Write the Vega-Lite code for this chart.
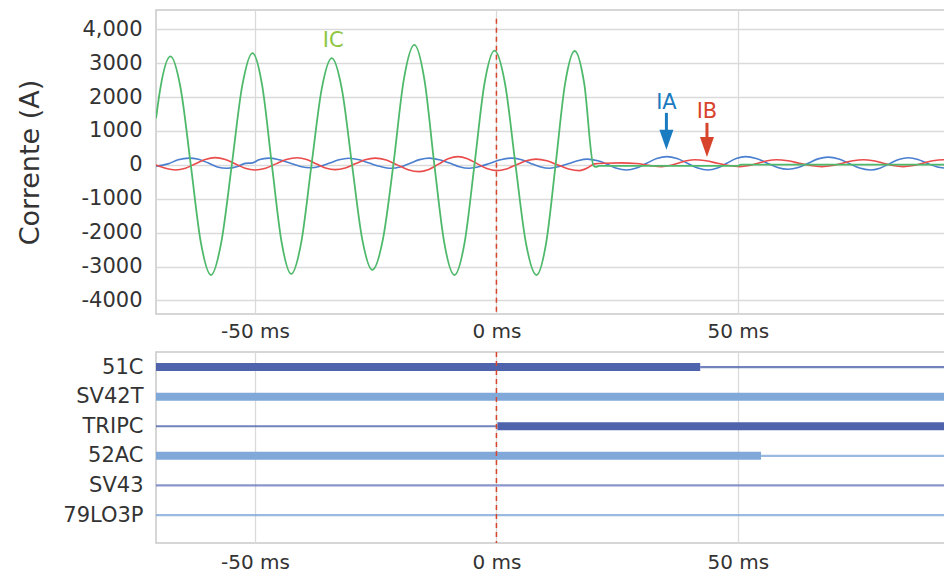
{
"$schema": "https://vega.github.io/schema/vega-lite/v6.json",
"padding": {"left": 16, "top": 9, "right": 0, "bottom": 0},
"config": {
  "font": "DejaVu Sans",
  "view": {"stroke": "#c9c9c9", "strokeWidth": 1.5},
  "axis": {"labelColor": "#333333", "titleColor": "#333333", "gridColor": "#dadada", "gridWidth": 1.3, "domain": false, "ticks": false, "labelFontSize": 20, "titleFontWeight": "normal", "titleFontSize": 27, "labelOverlap": false},
  "axisY": {"titlePadding": 36}
},
"datasets": {
  "waves": [
    {"p":"IC","t":-70.5,"v":1370},{"p":"IC","t":-69.6,"v":2260},{"p":"IC","t":-67.5,"v":3200},{"p":"IC","t":-65.4,"v":2260},{"p":"IC","t":-63.3,"v":0},{"p":"IC","t":-61.2,"v":-2300},{"p":"IC","t":-59.1,"v":-3250},{"p":"IC","t":-57.0,"v":-2300},{"p":"IC","t":-54.8,"v":0},{"p":"IC","t":-52.65,"v":2330},{"p":"IC","t":-50.5,"v":3300},{"p":"IC","t":-48.5,"v":2330},{"p":"IC","t":-46.5,"v":0},{"p":"IC","t":-44.5,"v":-2270},{"p":"IC","t":-42.5,"v":-3215},{"p":"IC","t":-40.4,"v":-2270},{"p":"IC","t":-38.3,"v":0},{"p":"IC","t":-36.2,"v":2230},{"p":"IC","t":-34.1,"v":3150},{"p":"IC","t":-32.0,"v":2230},{"p":"IC","t":-29.9,"v":0},{"p":"IC","t":-27.8,"v":-2190},{"p":"IC","t":-25.7,"v":-3100},{"p":"IC","t":-23.5,"v":-2190},{"p":"IC","t":-21.35,"v":0},{"p":"IC","t":-19.2,"v":2500},{"p":"IC","t":-17.0,"v":3540},{"p":"IC","t":-14.9,"v":2500},{"p":"IC","t":-12.85,"v":0},{"p":"IC","t":-10.8,"v":-2300},{"p":"IC","t":-8.7,"v":-3250},{"p":"IC","t":-6.6,"v":-2300},{"p":"IC","t":-4.55,"v":0},{"p":"IC","t":-2.5,"v":2380},{"p":"IC","t":-0.4,"v":3370},{"p":"IC","t":1.8,"v":2380},{"p":"IC","t":3.95,"v":0},{"p":"IC","t":6.1,"v":-2300},{"p":"IC","t":8.3,"v":-3250},{"p":"IC","t":10.3,"v":-2300},{"p":"IC","t":12.25,"v":0},{"p":"IC","t":14.2,"v":2380},{"p":"IC","t":16.2,"v":3360},{"p":"IC","t":18.2,"v":2380},{"p":"IC","t":20.1,"v":-20},{"p":"IC","t":20.6,"v":-60},{"p":"IC","t":21.3,"v":-30},{"p":"IC","t":50.0,"v":-30},{"p":"IC","t":50.6,"v":10},{"p":"IC","t":93.1,"v":10},
    {"p":"IA","t":-70.5,"v":-40},{"p":"IA","t":-68.0,"v":30},{"p":"IA","t":-65.9,"v":150},{"p":"IA","t":-63.7,"v":200},{"p":"IA","t":-61.7,"v":165},{"p":"IA","t":-59.75,"v":60},{"p":"IA","t":-57.8,"v":-60},{"p":"IA","t":-55.8,"v":-100},{"p":"IA","t":-53.6,"v":-45},{"p":"IA","t":-52.0,"v":45},{"p":"IA","t":-50.5,"v":60},{"p":"IA","t":-49.2,"v":150},{"p":"IA","t":-47.1,"v":200},{"p":"IA","t":-45.0,"v":150},{"p":"IA","t":-42.8,"v":55},{"p":"IA","t":-40.6,"v":-45},{"p":"IA","t":-38.5,"v":-85},{"p":"IA","t":-36.5,"v":-40},{"p":"IA","t":-34.55,"v":55},{"p":"IA","t":-32.6,"v":150},{"p":"IA","t":-30.6,"v":195},{"p":"IA","t":-28.4,"v":150},{"p":"IA","t":-26.2,"v":45},{"p":"IA","t":-24.0,"v":-50},{"p":"IA","t":-21.8,"v":-100},{"p":"IA","t":-19.8,"v":-55},{"p":"IA","t":-17.85,"v":50},{"p":"IA","t":-15.9,"v":155},{"p":"IA","t":-13.9,"v":200},{"p":"IA","t":-11.8,"v":150},{"p":"IA","t":-9.75,"v":55},{"p":"IA","t":-7.7,"v":-55},{"p":"IA","t":-5.6,"v":-100},{"p":"IA","t":-3.45,"v":-50},{"p":"IA","t":-1.3,"v":50},{"p":"IA","t":0.85,"v":150},{"p":"IA","t":3.0,"v":200},{"p":"IA","t":5.0,"v":160},{"p":"IA","t":7.0,"v":50},{"p":"IA","t":9.0,"v":-55},{"p":"IA","t":11.0,"v":-100},{"p":"IA","t":13.0,"v":-50},{"p":"IA","t":15.0,"v":40},{"p":"IA","t":17.0,"v":130},{"p":"IA","t":18.8,"v":170},{"p":"IA","t":21.0,"v":120},{"p":"IA","t":22.95,"v":20},{"p":"IA","t":24.9,"v":-100},{"p":"IA","t":26.9,"v":-150},{"p":"IA","t":29.0,"v":-92},{"p":"IA","t":31.1,"v":48},{"p":"IA","t":33.2,"v":187},{"p":"IA","t":35.3,"v":245},{"p":"IA","t":37.4,"v":187},{"p":"IA","t":39.55,"v":48},{"p":"IA","t":41.7,"v":-92},{"p":"IA","t":43.8,"v":-150},{"p":"IA","t":45.75,"v":-92},{"p":"IA","t":47.7,"v":48},{"p":"IA","t":49.65,"v":187},{"p":"IA","t":51.6,"v":245},{"p":"IA","t":53.8,"v":190},{"p":"IA","t":56.0,"v":58},{"p":"IA","t":58.2,"v":-75},{"p":"IA","t":60.4,"v":-130},{"p":"IA","t":62.5,"v":-77},{"p":"IA","t":64.55,"v":50},{"p":"IA","t":66.6,"v":177},{"p":"IA","t":68.7,"v":230},{"p":"IA","t":70.9,"v":175},{"p":"IA","t":73.05,"v":40},{"p":"IA","t":75.2,"v":-95},{"p":"IA","t":77.4,"v":-150},{"p":"IA","t":79.4,"v":-97},{"p":"IA","t":81.35,"v":30},{"p":"IA","t":83.3,"v":157},{"p":"IA","t":85.3,"v":210},{"p":"IA","t":87.3,"v":160},{"p":"IA","t":89.3,"v":40},{"p":"IA","t":91.3,"v":-60},{"p":"IA","t":93.1,"v":-100},
    {"p":"IB","t":-70.5,"v":0},{"p":"IB","t":-68.5,"v":-100},{"p":"IB","t":-66.5,"v":-150},{"p":"IB","t":-64.4,"v":-97},{"p":"IB","t":-62.35,"v":33},{"p":"IB","t":-60.3,"v":162},{"p":"IB","t":-58.2,"v":215},{"p":"IB","t":-56.15,"v":162},{"p":"IB","t":-54.1,"v":33},{"p":"IB","t":-52.05,"v":-97},{"p":"IB","t":-50.0,"v":-150},{"p":"IB","t":-47.8,"v":-97},{"p":"IB","t":-45.65,"v":30},{"p":"IB","t":-43.5,"v":157},{"p":"IB","t":-41.3,"v":210},{"p":"IB","t":-39.3,"v":159},{"p":"IB","t":-37.35,"v":35},{"p":"IB","t":-35.4,"v":-89},{"p":"IB","t":-33.4,"v":-140},{"p":"IB","t":-31.3,"v":-90},{"p":"IB","t":-29.25,"v":30},{"p":"IB","t":-27.2,"v":150},{"p":"IB","t":-25.1,"v":200},{"p":"IB","t":-22.8,"v":142},{"p":"IB","t":-20.55,"v":0},{"p":"IB","t":-18.3,"v":-142},{"p":"IB","t":-16.0,"v":-200},{"p":"IB","t":-14.0,"v":-135},{"p":"IB","t":-12.0,"v":22},{"p":"IB","t":-10.0,"v":180},{"p":"IB","t":-8.0,"v":245},{"p":"IB","t":-6.0,"v":184},{"p":"IB","t":-4.0,"v":37},{"p":"IB","t":-2.0,"v":-110},{"p":"IB","t":0.0,"v":-170},{"p":"IB","t":2.05,"v":-120},{"p":"IB","t":4.1,"v":0},{"p":"IB","t":6.15,"v":120},{"p":"IB","t":8.2,"v":170},{"p":"IB","t":10.45,"v":120},{"p":"IB","t":12.7,"v":0},{"p":"IB","t":14.95,"v":-120},{"p":"IB","t":17.2,"v":-170},{"p":"IB","t":19.0,"v":-80},{"p":"IB","t":20.3,"v":30},{"p":"IB","t":22.5,"v":50},{"p":"IB","t":25.8,"v":60},{"p":"IB","t":29.0,"v":40},{"p":"IB","t":31.5,"v":-10},{"p":"IB","t":34.2,"v":-50},{"p":"IB","t":35.9,"v":-20},{"p":"IB","t":37.65,"v":50},{"p":"IB","t":39.4,"v":120},{"p":"IB","t":41.1,"v":150},{"p":"IB","t":43.4,"v":120},{"p":"IB","t":45.75,"v":50},{"p":"IB","t":48.1,"v":-20},{"p":"IB","t":50.4,"v":-50},{"p":"IB","t":52.3,"v":-20},{"p":"IB","t":54.2,"v":50},{"p":"IB","t":56.1,"v":120},{"p":"IB","t":58.0,"v":150},{"p":"IB","t":60.35,"v":120},{"p":"IB","t":62.7,"v":50},{"p":"IB","t":65.05,"v":-20},{"p":"IB","t":67.4,"v":-50},{"p":"IB","t":69.55,"v":-20},{"p":"IB","t":71.7,"v":50},{"p":"IB","t":73.85,"v":120},{"p":"IB","t":76.0,"v":150},{"p":"IB","t":78.05,"v":120},{"p":"IB","t":80.1,"v":50},{"p":"IB","t":82.15,"v":-20},{"p":"IB","t":84.2,"v":-50},{"p":"IB","t":86.3,"v":-20},{"p":"IB","t":88.35,"v":50},{"p":"IB","t":90.4,"v":120},{"p":"IB","t":92.5,"v":150},{"p":"IB","t":93.1,"v":148}
  ],
  "marker": [{"t": 0, "v": 4310, "v2": -4400}],
  "notes": [
    {"who": "IC", "t": -33.8, "v": 3660},
    {"who": "IA", "t": 35.2, "v": 1830},
    {"who": "IB", "t": 43.6, "v": 1550}
  ],
  "arrows": [
    {"who": "IA", "t": 35.2, "v": 1535, "v2": 900},
    {"who": "IB", "t": 43.6, "v": 1240, "v2": 700}
  ],
  "heads": [
    {"who": "IA", "t": 35.2, "v": 738},
    {"who": "IB", "t": 43.6, "v": 531}
  ],
  "signals": [
    {"sig": "51C", "t": -70.5, "t2": 42.2, "state": "on"},
    {"sig": "51C", "t": 42.2, "t2": 93.1, "state": "off"},
    {"sig": "SV42T", "t": -70.5, "t2": 93.1, "state": "on"},
    {"sig": "TRIPC", "t": -70.5, "t2": 0.2, "state": "off"},
    {"sig": "TRIPC", "t": 0.2, "t2": 93.1, "state": "on"},
    {"sig": "52AC", "t": -70.5, "t2": 54.8, "state": "on"},
    {"sig": "52AC", "t": 54.8, "t2": 93.1, "state": "off"},
    {"sig": "SV43", "t": -70.5, "t2": 93.1, "state": "off"},
    {"sig": "79LO3P", "t": -70.5, "t2": 93.1, "state": "off"}
  ]
},
"spacing": 8,
"vconcat": [
  {
    "width": 790,
    "height": 304,
    "resolve": {"scale": {"color": "independent"}},
    "encoding": {
      "x": {"field": "t", "type": "quantitative", "title": null,
            "scale": {"domain": [-70.5, 93.1], "nice": false, "zero": false},
            "axis": {"values": [-50, 0, 50], "labelExpr": "datum.value + ' ms'", "grid": true, "labelPadding": 7, "labelFontSize": 20}},
      "y": {"field": "v", "type": "quantitative", "title": "Corrente (A)",
            "scale": {"domain": [-4400, 4570], "nice": false, "zero": false},
            "axis": {"values": [-4000, -3000, -2000, -1000, 0, 1000, 2000, 3000, 4000], "labelExpr": "datum.value == 4000 ? '4,000' : '' + datum.value", "grid": true, "labelFontSize": 21, "labelPadding": 14, "labelOverlap": false, "labelBound": false}}
    },
    "layer": [
      {
        "data": {"name": "waves"},
        "transform": [{"filter": "datum.p != 'IC'"}],
        "mark": {"type": "line", "interpolate": "monotone", "strokeWidth": 1.6, "clip": true},
        "encoding": {
          "color": {"field": "p", "type": "nominal", "scale": {"domain": ["IA", "IB"], "range": ["#4a7fd0", "#ea4b4b"]}, "legend": null}
        }
      },
      {
        "data": {"name": "waves"},
        "transform": [{"filter": "datum.p == 'IC'"}],
        "mark": {"type": "line", "interpolate": "monotone", "strokeWidth": 1.8, "color": "#4fb96b", "clip": true},
        "encoding": {}
      },
      {
        "data": {"name": "marker"},
        "mark": {"type": "rule", "strokeDash": [5, 4], "color": "#d9452c", "strokeWidth": 1.5},
        "encoding": {
          "y2": {"field": "v2"}
        }
      },
      {
        "data": {"name": "arrows"},
        "mark": {"type": "rule", "strokeWidth": 3},
        "encoding": {
          "y2": {"field": "v2"},
          "color": {"field": "who", "type": "nominal", "scale": {"domain": ["IA", "IB"], "range": ["#1b7bc0", "#d8432c"]}, "legend": null}
        }
      },
      {
        "data": {"name": "heads"},
        "mark": {"type": "point", "filled": true, "opacity": 1, "shape": "M-0.7,-1L0.7,-1L0,1Z", "size": 400, "strokeWidth": 0},
        "encoding": {
          "color": {"field": "who", "type": "nominal", "scale": {"domain": ["IA", "IB"], "range": ["#1b7bc0", "#d8432c"]}, "legend": null}
        }
      },
      {
        "data": {"name": "notes"},
        "mark": {"type": "text", "fontSize": 21, "baseline": "middle", "align": "center"},
        "encoding": {
          "text": {"field": "who"},
          "color": {"field": "who", "type": "nominal", "scale": {"domain": ["IC", "IA", "IB"], "range": ["#8dc63f", "#1b7bc0", "#d8432c"]}, "legend": null}
        }
      }
    ]
  },
  {
    "width": 790,
    "height": 191,
    "encoding": {
      "x": {"field": "t", "type": "quantitative", "title": null,
            "scale": {"domain": [-70.5, 93.1], "nice": false, "zero": false},
            "axis": {"values": [-50, 0, 50], "labelExpr": "datum.value + ' ms'", "grid": true, "labelPadding": 9, "labelFontSize": 20}}
    },
    "layer": [
      {
        "data": {"name": "signals"},
        "mark": {"type": "rule", "strokeCap": "butt"},
        "encoding": {
          "x2": {"field": "t2"},
          "y": {"field": "sig", "type": "nominal", "title": null,
                "scale": {"type": "point", "domain": ["51C", "SV42T", "TRIPC", "52AC", "SV43", "79LO3P"], "padding": 0.726, "align": 0.35},
                "axis": {"grid": false, "labelFontSize": 21, "labelPadding": 13}},
          "color": {"field": "sig", "type": "nominal", "scale": {"domain": ["51C", "SV42T", "TRIPC", "52AC", "SV43", "79LO3P"], "range": ["#4f63ad", "#80a8d9", "#4f63ad", "#80a8d9", "#6d7bc0", "#80a8d9"]}, "legend": null},
          "strokeWidth": {"field": "state", "type": "nominal", "scale": {"domain": ["on", "off"], "range": [8, 2.2]}, "legend": null},
          "opacity": {"field": "state", "type": "nominal", "scale": {"domain": ["on", "off"], "range": [1, 0.8]}, "legend": null}
        }
      },
      {
        "data": {"name": "marker"},
        "mark": {"type": "rule", "strokeDash": [5, 4], "color": "#d9452c", "strokeWidth": 1.5},
        "encoding": {}
      }
    ]
  }
]
}
